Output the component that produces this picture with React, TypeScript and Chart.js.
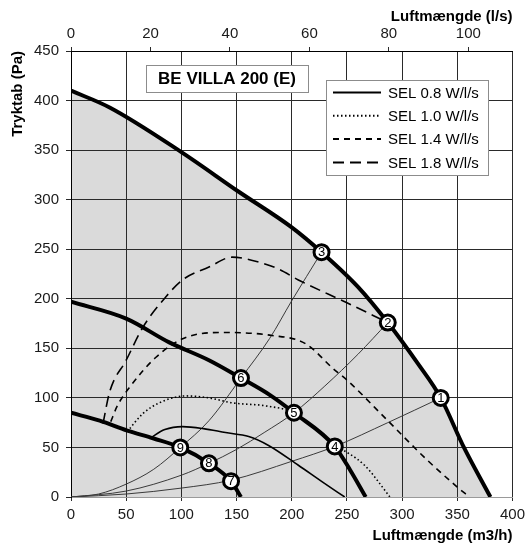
import React, { useEffect, useRef } from 'react';
import { Chart, registerables } from 'chart.js';

Chart.register(...registerables);

// ---- Data (m3/h, Pa) ----
const xTicksM3h = [0, 50, 100, 150, 200, 250, 300, 350, 400];
const xTicksLs = [0, 20, 40, 60, 80, 100];
const yTicksPa = [0, 50, 100, 150, 200, 250, 300, 350, 400, 450];

const maxCurveX = [0, 35, 100, 152, 200, 227, 260, 287, 314, 335, 356, 380];
const maxCurveY = [410, 393, 348, 308, 272, 247, 212, 176, 135, 100, 50, 0];

const midCurveX = [0, 50, 89, 125, 154, 180, 202, 239, 253, 267];
const midCurveY = [197, 180, 156, 138, 120, 103, 85, 51, 27, 0];

const lowCurveX = [0, 26, 51, 75, 99, 125, 145, 154];
const lowCurveY = [85, 77, 67, 59, 50, 34, 16, 0];

const sysAX = [0, 25, 50, 75, 99, 125, 154, 180, 200, 227];
const sysAY = [0, 3, 13, 28, 50, 77, 120, 160, 198, 247];

const sysBX = [0, 50, 100, 125, 150, 175, 202, 230, 260, 287];
const sysBY = [0, 6, 22, 34, 48, 65, 85, 112, 144, 176];

const sysCX = [0, 50, 100, 145, 200, 239, 287, 335];
const sysCY = [0, 3, 9, 17, 36, 51, 75, 100];

const sel08X = [71, 85, 101, 120, 140, 161, 179, 206, 228, 248];
const sel08Y = [59, 68, 71, 69, 65, 61, 52, 32, 15, 0];

const sel10X = [51, 65, 80, 104, 125, 146, 176, 202, 220, 239, 266, 289];
const sel10Y = [66, 84, 95, 102, 100, 95, 92, 85, 70, 53, 32, 0];

const sel14X = [36, 42, 54, 77, 104, 140, 182, 212, 239, 250, 287, 323, 350, 361];
const sel14Y = [76, 92, 112, 141, 161, 166, 163, 155, 128, 118, 77, 37, 10, 0];

const sel18X = [29, 35, 50, 65, 86, 101, 125, 146, 170, 188, 206, 250, 287];
const sel18Y = [74, 106, 138, 171, 202, 219, 232, 242, 237, 230, 219, 196, 176];

const markerLabels = ['1', '2', '3', '4', '5', '6', '7', '8', '9'];
const markerX = [335, 287, 227, 239, 202, 154, 145, 125, 99];
const markerY = [100, 176, 247, 51, 85, 120, 16, 34, 50];

const legendLabels = ['SEL 0.8 W/l/s', 'SEL 1.0 W/l/s', 'SEL 1.4 W/l/s', 'SEL 1.8 W/l/s'];
const productName = 'BE VILLA 200 (E)';

const M3H_PER_LS = 3.6;

const zip = (xs: number[], ys: number[]) => xs.map((x, i) => ({ x, y: ys[i] }));

const FONT = 'Arial, "Liberation Sans", sans-serif';

const legendDashes: number[][] = [[], [1.5, 2.5], [6, 5], [11, 6]];

const overlayPlugin = {
  id: 'overlay',
  afterDatasetsDraw(chart: any) {
    const ctx = chart.ctx;
    const idx = chart.data.datasets.findIndex((d: any) => d.label === 'markers');
    const meta = chart.getDatasetMeta(idx);
    ctx.save();
    ctx.fillStyle = '#000';
    ctx.font = `13px ${FONT}`;
    ctx.textAlign = 'center';
    ctx.textBaseline = 'middle';
    meta.data.forEach((el: any, i: number) => {
      ctx.fillText(markerLabels[i], el.x, el.y + 0.5);
    });
    ctx.restore();
  },
  afterDraw(chart: any) {
    const ctx = chart.ctx;
    const ca = chart.chartArea;
    ctx.save();
    // product box
    const bx = ca.left + 75, by = ca.top + 14, bw = 162, bh = 27;
    ctx.fillStyle = '#fff';
    ctx.fillRect(bx, by, bw, bh);
    ctx.strokeStyle = '#8c8c8c';
    ctx.lineWidth = 1;
    ctx.strokeRect(bx + 0.5, by + 0.5, bw, bh);
    ctx.fillStyle = '#000';
    ctx.font = `bold 17px ${FONT}`;
    ctx.textAlign = 'center';
    ctx.textBaseline = 'middle';
    ctx.fillText(productName, bx + bw / 2, by + bh / 2 + 1);

    // legend box
    const lx = ca.left + 255, ly = ca.top + 29, lw = 162, lh = 95;
    ctx.fillStyle = '#fff';
    ctx.fillRect(lx, ly, lw, lh);
    ctx.strokeStyle = '#8c8c8c';
    ctx.strokeRect(lx + 0.5, ly + 0.5, lw, lh);
    ctx.font = `15px ${FONT}`;
    ctx.textAlign = 'left';
    legendLabels.forEach((lab, i) => {
      const yy = ly + 12.5 + i * 23.3;
      ctx.beginPath();
      ctx.setLineDash(legendDashes[i]);
      ctx.strokeStyle = '#000';
      ctx.lineWidth = 2;
      ctx.moveTo(lx + 7, yy);
      ctx.lineTo(lx + 55, yy);
      ctx.stroke();
      ctx.setLineDash([]);
      ctx.fillStyle = '#000';
      ctx.fillText(lab, lx + 62, yy + 1);
    });
    ctx.restore();
  },
};

export default function App() {
  const ref = useRef<HTMLCanvasElement | null>(null);
  useEffect(() => {
    document.body.style.margin = '0';
    const canvas = ref.current;
    if (!canvas) return;
    const thin = { borderColor: '#3a3a3a', borderWidth: 1, pointRadius: 0, fill: false, cubicInterpolationMode: 'monotone' as const };
    const sel = { borderColor: '#000', borderWidth: 1.6, pointRadius: 0, fill: false, cubicInterpolationMode: 'monotone' as const };
    const thick = { borderColor: '#000', borderWidth: 4, pointRadius: 0, fill: false, cubicInterpolationMode: 'monotone' as const };
    const chart = new Chart(canvas, {
      type: 'line',
      data: {
        datasets: [
          { label: 'markers', data: zip(markerX, markerY), showLine: false, pointRadius: 7.5, pointBorderWidth: 3, pointBackgroundColor: '#fff', pointBorderColor: '#000', order: 0 } as any,
          { label: 'max', data: zip(maxCurveX, maxCurveY), ...thick, fill: 'origin', backgroundColor: '#dadada', order: 1 },
          { label: 'mid', data: zip(midCurveX, midCurveY), ...thick, order: 1 },
          { label: 'low', data: zip(lowCurveX, lowCurveY), ...thick, order: 1 },
          { label: 'SEL 0.8', data: zip(sel08X, sel08Y), ...sel, order: 2 },
          { label: 'SEL 1.0', data: zip(sel10X, sel10Y), ...sel, borderDash: [1.5, 2.5], order: 2 },
          { label: 'SEL 1.4', data: zip(sel14X, sel14Y), ...sel, borderDash: [6, 5], order: 2 },
          { label: 'SEL 1.8', data: zip(sel18X, sel18Y), ...sel, borderDash: [11, 6], order: 2 },
          { label: 'sysA', data: zip(sysAX, sysAY), ...thin, order: 3 },
          { label: 'sysB', data: zip(sysBX, sysBY), ...thin, order: 3 },
          { label: 'sysC', data: zip(sysCX, sysCY), ...thin, order: 3 },
        ],
      },
      options: {
        responsive: false,
        animation: false,
        layout: { padding: { left: 0, right: 15, top: 0, bottom: 0 } },
        plugins: {
          legend: { display: false },
          tooltip: { enabled: false },
          filler: { drawTime: 'beforeDraw' },
        } as any,
        scales: {
          x: {
            type: 'linear',
            position: 'bottom',
            min: xTicksM3h[0],
            max: xTicksM3h[xTicksM3h.length - 1],
            afterBuildTicks: (s: any) => { s.ticks = xTicksM3h.map((v) => ({ value: v })); },
            afterFit: (s: any) => { s.height = 52; },
            ticks: { color: '#1a1a1a', font: { family: FONT, size: 15 }, padding: 5, maxRotation: 0 },
            grid: { color: '#2a2a2a', lineWidth: 1, tickLength: 4 },
            border: { color: '#9a9a9a', width: 1 },
            title: { display: true, text: 'Luftmængde (m3/h)', align: 'end', color: '#000', font: { family: FONT, size: 15, weight: 'bold' }, padding: { top: 0, bottom: 4 } },
          },
          x2: {
            type: 'linear',
            position: 'top',
            min: 0,
            max: xTicksM3h[xTicksM3h.length - 1] / M3H_PER_LS,
            afterBuildTicks: (s: any) => { s.ticks = xTicksLs.map((v) => ({ value: v })); },
            afterFit: (s: any) => { s.height = 51; },
            ticks: { color: '#1a1a1a', font: { family: FONT, size: 15 }, padding: 4, maxRotation: 0 },
            grid: { drawOnChartArea: false, color: '#2a2a2a', tickLength: 4 },
            border: { color: '#000', width: 1 },
            title: { display: true, text: 'Luftmængde (l/s)', align: 'end', color: '#000', font: { family: FONT, size: 15, weight: 'bold' }, padding: { top: 8, bottom: 0 } },
          },
          y: {
            type: 'linear',
            position: 'left',
            min: yTicksPa[0],
            max: yTicksPa[yTicksPa.length - 1],
            afterBuildTicks: (s: any) => { s.ticks = yTicksPa.map((v) => ({ value: v })); },
            afterFit: (s: any) => { s.width = 71; },
            ticks: { color: '#1a1a1a', font: { family: FONT, size: 15 }, padding: 7 },
            grid: { color: '#2a2a2a', lineWidth: 1, tickLength: 5 },
            border: { color: '#000', width: 1 },
            title: { display: true, text: 'Tryktab (Pa)', align: 'end', color: '#000', font: { family: FONT, size: 15, weight: 'bold' }, padding: { top: 9, bottom: 0 } },
          },
        },
      } as any,
      plugins: [overlayPlugin],
    });
    return () => chart.destroy();
  }, []);
  return (
    <div style={{ width: 530, height: 549 }}>
      <canvas ref={ref} width={530} height={549} />
    </div>
  );
}
